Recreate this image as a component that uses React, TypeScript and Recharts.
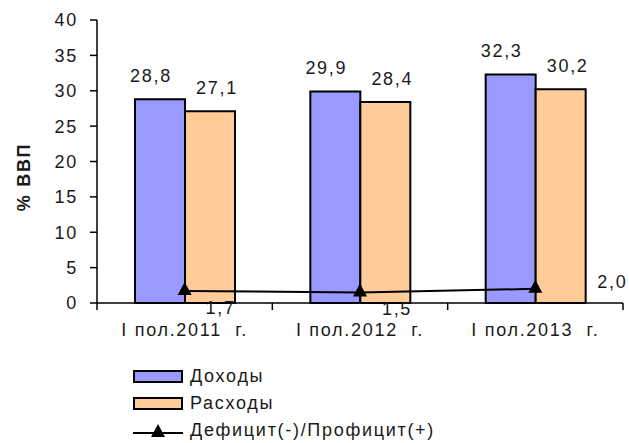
import React from "react";
import {
  ComposedChart,
  Bar,
  Line,
  XAxis,
  YAxis,
  LabelList,
} from "recharts";

const categories = ["I пол.2011  г.", "I пол.2012  г.", "I пол.2013  г."];
const income = [28.8, 29.9, 32.3];
const expenses = [27.1, 28.4, 30.2];
const balance = [1.7, 1.5, 2.0];
const yTicks = [0, 5, 10, 15, 20, 25, 30, 35, 40];

// label placement for the balance line, relative to each point (as in the source)
const balanceLabelShift = [
  { dx: 36, dy: 17 },
  { dx: 37, dy: 17 },
  { dx: 77, dy: -7 },
];

const W = 629;
const H = 443;
const LEFT = 97;
const RIGHT = 6;
const BAND = (W - LEFT - RIGHT) / categories.length;
const FONT = "'Liberation Sans', Arial, sans-serif";
const TXT = "#1a1a1a";
const SPACING = 1.7;

const data = categories.map((c, i) => ({
  name: c,
  income: income[i],
  expenses: expenses[i],
  balance: balance[i],
}));

const fmt = (v: number) => v.toFixed(1).replace(".", ",");

function CategoryTick(props: any) {
  const { x, y, payload, index } = props;
  return (
    <g>
      <line x1={x - BAND / 2} x2={x - BAND / 2} y1={y} y2={y + 7} stroke="#000" strokeWidth={1.5} />
      {index === categories.length - 1 && (
        <line x1={x + BAND / 2} x2={x + BAND / 2} y1={y} y2={y + 7} stroke="#000" strokeWidth={1.5} />
      )}
      <text
        x={x}
        y={y + 33}
        textAnchor="middle"
        fontSize={18}
        fill={TXT}
        style={{ fontFamily: FONT, letterSpacing: SPACING, whiteSpace: "pre" }}
      >
        {payload.value}
      </text>
    </g>
  );
}

function Triangle(props: any) {
  const { cx, cy } = props;
  if (cx == null || cy == null) return null;
  return <polygon points={`${cx},${cy - 9} ${cx - 7},${cy + 4} ${cx + 7},${cy + 4}`} fill="#000" />;
}

function barLabel(dx: number) {
  return (props: any) => {
    const { x, y, width, value } = props;
    return (
      <text
        x={x + width / 2 + dx}
        y={y - 17}
        textAnchor="middle"
        fontSize={18}
        fill={TXT}
        style={{ fontFamily: FONT, letterSpacing: SPACING }}
      >
        {fmt(value)}
      </text>
    );
  };
}

function balanceLabel(props: any) {
  const { x, y, value, index } = props;
  const s = balanceLabelShift[index] || { dx: 0, dy: 0 };
  return (
    <text
      x={x + s.dx}
      y={y + s.dy + 6}
      textAnchor="middle"
      fontSize={18}
      fill={TXT}
      style={{ fontFamily: FONT, letterSpacing: SPACING }}
    >
      {fmt(value)}
    </text>
  );
}

function LegendRow({ kind, color, text }: { kind: "bar" | "line"; color?: string; text: string }) {
  return (
    <div style={{ display: "flex", alignItems: "center", height: 27 }}>
      {kind === "bar" ? (
        <div
          style={{
            width: 46,
            height: 9,
            background: color,
            border: "2px solid #000",
            marginRight: 7,
          }}
        />
      ) : (
        <svg width={50} height={16} style={{ marginRight: 7 }}>
          <line x1={0} x2={50} y1={10} y2={10} stroke="#000" strokeWidth={2} />
          <polygon points="25,1 18,14 32,14" fill="#000" />
        </svg>
      )}
      <span style={{ fontFamily: FONT, fontSize: 18, color: TXT, letterSpacing: SPACING }}>{text}</span>
    </div>
  );
}

export default function App() {
  return (
    <div style={{ position: "absolute", left: 0, top: 0, width: W, height: H, background: "#fff" }}>
      <ComposedChart
        width={W}
        height={H}
        data={data}
        margin={{ top: 20, right: RIGHT, left: 0, bottom: 110 }}
        barGap={0}
      >
        <XAxis
          dataKey="name"
          axisLine={{ stroke: "#000", strokeWidth: 1.5 }}
          tickLine={false}
          tickSize={0}
          tickMargin={0}
          height={30}
          interval={0}
          tick={<CategoryTick />}
        />
        <YAxis
          domain={[0, 40]}
          ticks={yTicks}
          width={LEFT}
          axisLine={{ stroke: "#000", strokeWidth: 1.5 }}
          tickLine={{ stroke: "#000", strokeWidth: 1.5 }}
          tickSize={7}
          tickMargin={12}
          tick={{ fill: TXT, fontSize: 18, fontFamily: FONT, letterSpacing: SPACING }}
          label={{
            content: () => (
              <text
                x={30}
                y={177}
                transform="rotate(-90, 30, 177)"
                textAnchor="middle"
                fontSize={18}
                fontWeight="bold"
                fill={TXT}
                style={{ fontFamily: FONT, letterSpacing: SPACING }}
              >
                % ВВП
              </text>
            ),
          }}
        />
        <Bar dataKey="income" fill="#9999ff" stroke="#000" strokeWidth={2} barSize={50} isAnimationActive={false}>
          <LabelList dataKey="income" content={barLabel(-9)} />
        </Bar>
        <Bar dataKey="expenses" fill="#ffcc99" stroke="#000" strokeWidth={2} barSize={50} isAnimationActive={false}>
          <LabelList dataKey="expenses" content={barLabel(7)} />
        </Bar>
        <Line
          dataKey="balance"
          stroke="#000"
          strokeWidth={2}
          dot={<Triangle />}
          activeDot={false}
          isAnimationActive={false}
        >
          <LabelList dataKey="balance" content={balanceLabel} />
        </Line>
      </ComposedChart>
      <div style={{ position: "absolute", left: 133, top: 363 }}>
        <LegendRow kind="bar" color="#9999ff" text="Доходы" />
        <LegendRow kind="bar" color="#ffcc99" text="Расходы" />
        <LegendRow kind="line" text="Дефицит(-)/Профицит(+)" />
      </div>
    </div>
  );
}
